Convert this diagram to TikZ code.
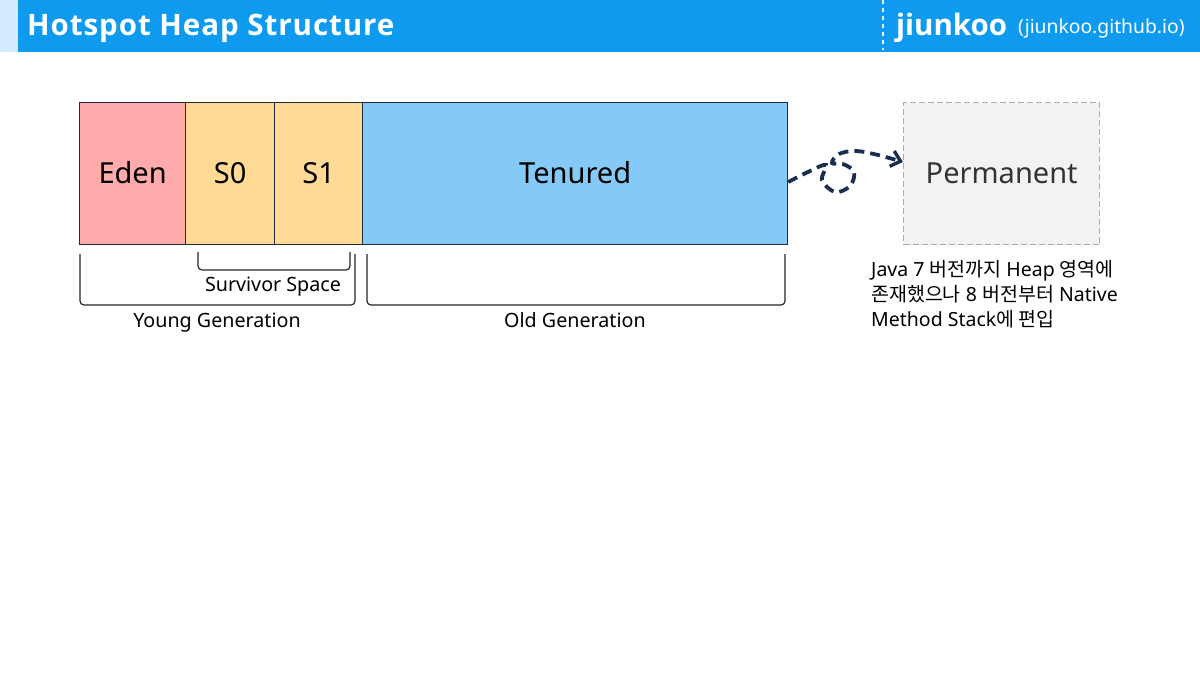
\documentclass[tikz,border=0pt]{standalone}
\usepackage{fontspec}
\setmainfont{Noto Sans}
\newfontfamily\kr{Noto Sans CJK KR}
\newfontfamily\hdrfont{Open Sans}[LetterSpace=3.2]
\newfontfamily\brandfont{Open Sans}
\usetikzlibrary{arrows.meta}
\definecolor{hdrblue}{HTML}{0E9AEF}
\definecolor{hdrlight}{HTML}{D2EBFC}
\definecolor{edenc}{HTML}{FFABAB}
\definecolor{survc}{HTML}{FFDA95}
\definecolor{tenc}{HTML}{85CAF7}
\definecolor{edgec}{HTML}{1E2B45}
\definecolor{permfill}{HTML}{F2F2F2}
\definecolor{permedge}{HTML}{AAAAAA}
\definecolor{navy}{HTML}{1A2E50}
\tikzset{
  region/.style={draw=edgec, line width=1.3pt, inner sep=0pt, anchor=north west},
  rtext/.style={anchor=base, inner sep=0pt, font=\fontsize{29}{32}\selectfont},
  brace/.style={draw=black!85, line width=1.2pt, rounded corners=4pt},
  lbl/.style={font=\fontsize{19.7}{22}\selectfont, inner sep=0pt, anchor=base},
}
\begin{document}
\begin{tikzpicture}[x=1pt,y=-1pt]
\useasboundingbox (0,0) rectangle (1200,675);
\fill[white] (0,0) rectangle (1200,675);
% header
\fill[hdrlight] (0,0) rectangle (18,52);
\fill[hdrblue] (18,0) rectangle (1200,52);
\draw[white, line width=2.2pt, dash pattern=on 4pt off 4pt] (883,0) -- (883,50);
\node[anchor=base west, text=white, font=\hdrfont\bfseries\fontsize{29.5}{30}\selectfont, inner sep=0pt] (title) at (27,35) {Hotspot Heap Structure};
\node[anchor=base west, text=white, font=\brandfont\bfseries\fontsize{29.5}{30}\selectfont, inner sep=0pt] (brand) at (896,35) {jiunkoo};
\node[anchor=base west, text=white, font=\fontsize{19.3}{22}\selectfont, inner sep=0pt] (site) at (1018,33) {(jiunkoo.github.io)};
% regions
\node[region, fill=edenc, minimum width=106pt, minimum height=142pt] (eden) at (79,102) {};
\node[region, fill=survc, minimum width=89pt, minimum height=142pt] (s0) at (185,102) {};
\node[region, fill=survc, minimum width=88pt, minimum height=142pt] (s1) at (274,102) {};
\node[region, fill=tenc, minimum width=425pt, minimum height=142pt] (ten) at (362,102) {};
\node[region, draw=permedge, dash pattern=on 6pt off 3pt, line width=1.4pt, fill=permfill, minimum width=196pt, minimum height=142pt] (perm) at (903,102) {};
\node[rtext] (edent) at ([yshift=-9.5pt]eden.center) {Eden};
\node[rtext] (s0t) at ([yshift=-9.5pt]s0.center) {S0};
\node[rtext] (s1t) at ([yshift=-9.5pt]s1.center) {S1};
\node[rtext] (tent) at ([yshift=-9.5pt]ten.center) {Tenured};
\node[rtext, text=black!80] (permt) at ([yshift=-9.5pt]perm.center) {Permanent};
% braces
\draw[brace] (80,254) -- (80,305) -- (355,305) -- (355,254);
\draw[brace] (198,252) -- (198,270) -- (350,270) -- (350,252);
\draw[brace] (367,254) -- (367,305) -- (785,305) -- (785,254);
\node[lbl] (survl) at (273,291) {Survivor Space};
\node[lbl] (youngl) at (217,327) {Young Generation};
\node[lbl] (oldl) at (575,327) {Old Generation};
% note
\node[anchor=north west, inner sep=0pt, align=left, font=\fontsize{19.5}{25}\selectfont] (note) at (871,260) {Java 7 {\kr 버전까지} Heap {\kr 영역에}\\{\kr 존재했으나} 8 {\kr 버전부터} Native\\Method Stack{\kr 에 편입}};
% curly arrow
\coordinate (a0) at (ten.east |- 0,182);
\coordinate (a1) at (perm.west |- 0,162);
\draw[navy, line width=3.8pt, dash pattern=on 10pt off 6pt, -{Straight Barb[length=9pt,width=16pt,line width=3.4pt]}]
  plot[smooth, tension=0.6] coordinates {(a0) (808,172) (826,165) (822,180) (835,192) (850,186) (854,172) (843,164) (832,163) (839,154) (856,151) (878,155) (a1)};
\end{tikzpicture}
\end{document}
